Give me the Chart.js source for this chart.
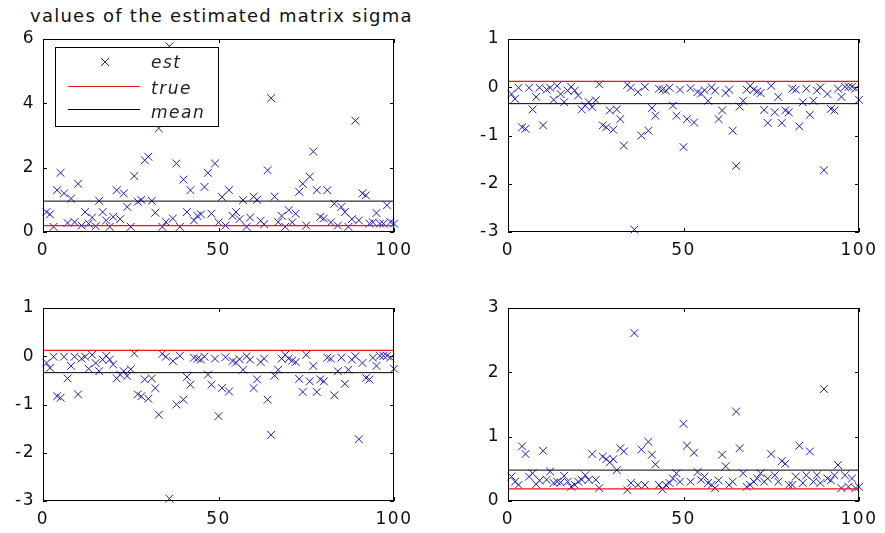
<!DOCTYPE html>
<html>
<head>
<meta charset="utf-8">
<script src="https://cdn.jsdelivr.net/npm/chart.js@4.4.0/dist/chart.umd.min.js"></script>
<style>
  body { margin: 0; background: #fff; }
  #wrap { position: relative; width: 885px; height: 533px; background: #fff; overflow: hidden; }
  #wrap canvas { position: absolute; }
  #title {
    position: absolute; left: 30px; top: 6px;
    text-align: left; white-space: nowrap;
    font: 18px "DejaVu Sans"; letter-spacing: 1.25px; line-height: 20px; color: #111;
  }
</style>
</head>
<body>
<div id="wrap">
  <div id="title">values of the estimated matrix sigma</div>
  <canvas id="c11" width="442" height="266" style="left:0;top:0"></canvas>
  <canvas id="c12" width="442" height="266" style="left:465px;top:0"></canvas>
  <canvas id="c21" width="442" height="266" style="left:0;top:269px"></canvas>
  <canvas id="c22" width="442" height="266" style="left:465px;top:269px"></canvas>
</div>
<script>
// run number of each estimate
const runs = [
    1, 2, 3, 4, 5, 6, 7, 8, 9, 10, 11, 12, 13, 14, 15, 16, 17, 18, 19, 20,
    21, 22, 23, 24, 25, 26, 27, 28, 29, 30, 31, 32, 33, 34, 35, 36, 37, 38, 39, 40,
    41, 42, 43, 44, 45, 46, 47, 48, 49, 50, 51, 52, 53, 54, 55, 56, 57, 58, 59, 60,
    61, 62, 63, 64, 65, 66, 67, 68, 69, 70, 71, 72, 73, 74, 75, 76, 77, 78, 79, 80,
    81, 82, 83, 84, 85, 86, 87, 88, 89, 90, 91, 92, 93, 94, 95, 96, 97, 98, 99, 100
];

// estimated sigma(1,1)
const sigma11 = [
    0.62, 0.55, 0.16, 1.30, 1.84, 1.20, 0.28, 1.04, 0.31, 1.50,
    0.20, 0.62, 0.26, 0.45, 0.18, 0.97, 0.62, 0.36, 0.16, 0.47,
    1.30, 0.40, 1.20, 0.78, 0.16, 1.74, 0.94, 1.00, 2.23, 2.34,
    0.97, 0.60, 3.22, 0.16, 0.31, 5.77, 0.42, 2.13, 0.16, 1.63,
    0.62, 1.30, 0.36, 0.50, 0.55, 1.40, 1.84, 0.57, 2.13, 0.30,
    1.09, 0.20, 1.30, 0.50, 0.62, 0.40, 0.99, 0.16, 0.45, 1.10,
    1.00, 0.35, 0.24, 1.92, 4.16, 1.10, 0.31, 0.50, 0.16, 0.68,
    0.30, 0.57, 1.25, 1.50, 0.20, 1.72, 2.50, 1.30, 0.47, 0.42,
    1.30, 0.30, 0.88, 0.20, 0.78, 0.62, 0.16, 0.40, 3.46, 0.36,
    1.20, 1.14, 0.26, 0.30, 0.59, 0.26, 0.26, 0.83, 0.31, 0.26
];

// estimated sigma(1,2) = sigma(2,1)
const sigma12 = [
    -0.14, -0.24, -0.01, -0.83, -0.86, -0.01, -0.46, -0.20, -0.01, -0.79,
    -0.05, -0.01, -0.26, 0.03, -0.14, -0.31, -0.07, 0.01, -0.07, -0.17,
    -0.46, -0.38, -0.31, -0.41, -0.27, 0.06, -0.79, -0.83, -0.48, -0.88,
    -0.46, -0.66, -1.21, 0.05, -0.01, -2.95, -0.10, -1.00, 0.01, -0.90,
    -0.43, -0.59, -0.03, -0.05, -0.07, -0.01, -0.38, -0.59, -0.05, -1.24,
    -0.66, -0.02, -0.73, -0.10, -0.13, -0.06, -0.28, 0.00, -0.07, -0.66,
    -0.48, -0.12, -0.05, -0.90, -1.63, -0.40, -0.28, -0.05, 0.03, -0.05,
    -0.09, -0.12, -0.47, -0.74, 0.03, -0.52, -0.20, -0.74, -0.48, -0.52,
    -0.03, -0.05, -0.81, -0.31, -0.03, -0.57, -0.28, -0.07, 0.00, -1.72,
    -0.14, -0.45, -0.48, -0.03, -0.20, 0.01, 0.01, 0.01, -0.03, -0.26
];

// estimated sigma(2,2)
const sigma22 = [
    0.38, 0.30, 0.25, 0.85, 0.73, 0.38, 0.43, 0.26, 0.32, 0.78,
    0.33, 0.46, 0.28, 0.30, 0.29, 0.39, 0.30, 0.22, 0.25, 0.30,
    0.33, 0.40, 0.33, 0.73, 0.33, 0.20, 0.69, 0.65, 0.60, 0.65,
    0.48, 0.82, 0.77, 0.17, 0.28, 2.61, 0.25, 0.80, 0.25, 0.92,
    0.72, 0.57, 0.25, 0.18, 0.25, 0.28, 0.35, 0.43, 0.30, 1.20,
    0.86, 0.30, 0.75, 0.45, 0.33, 0.38, 0.28, 0.25, 0.20, 0.32,
    0.72, 0.54, 0.25, 0.30, 1.39, 0.82, 0.43, 0.22, 0.25, 0.30,
    0.35, 0.43, 0.30, 0.35, 0.73, 0.40, 0.30, 0.62, 0.58, 0.25,
    0.25, 0.38, 0.86, 0.28, 0.40, 0.77, 0.30, 0.40, 0.28, 1.74,
    0.35, 0.32, 0.40, 0.56, 0.20, 0.40, 0.22, 0.35, 0.20, 0.22
];

// horizontal reference lines: true value and mean of the estimates
const trueValues = [0.2, 0.12, 0.12, 0.19];
const meanValues = [0.96, -0.34, -0.34, 0.48];

const xTicks = [0, 50, 100];
const yTicks11 = [0, 2, 4, 6];
const yTicks12 = [-3, -2, -1, 0, 1];
const yTicks22 = [0, 1, 2, 3];

const legendLabels = ['est', 'true', 'mean'];

const estColor = 'rgb(25, 25, 200)';
const trueColor = 'rgb(240, 20, 20)';
const meanColor = '#000';
const tickFont = { family: 'DejaVu Sans', size: 17 };

// matlab style box with inward tick marks
const boxPlugin = {
    id: 'boxPlugin',
    beforeDraw(chart) {
        chart.ctx.letterSpacing = '1.5px';
    },
    afterDraw(chart) {
        const ctx = chart.ctx;
        const a = chart.chartArea;
        const xs = chart.scales.x;
        const ys = chart.scales.y;
        ctx.save();
        ctx.strokeStyle = '#000';
        ctx.lineWidth = 1;
        ctx.strokeRect(a.left + 0.5, a.top + 0.5, a.right - a.left - 1, a.bottom - a.top - 1);
        ctx.beginPath();
        xs.ticks.forEach(t => {
            const px = Math.round(xs.getPixelForValue(t.value)) + 0.5;
            ctx.moveTo(px, a.bottom);
            ctx.lineTo(px, a.bottom - 4);
            ctx.moveTo(px, a.top);
            ctx.lineTo(px, a.top + 4);
        });
        ys.ticks.forEach(t => {
            const py = Math.round(ys.getPixelForValue(t.value)) + 0.5;
            ctx.moveTo(a.left, py);
            ctx.lineTo(a.left + 4, py);
            ctx.moveTo(a.right, py);
            ctx.lineTo(a.right - 4, py);
        });
        ctx.stroke();
        ctx.restore();
    }
};

// legend box inside the first axes
const legendPlugin = {
    id: 'legendPlugin',
    afterDraw(chart) {
        const ctx = chart.ctx;
        const a = chart.chartArea;
        const bx = a.left + 12, by = a.top + 8;
        ctx.save();
        ctx.fillStyle = '#fff';
        ctx.fillRect(bx, by, 163, 79);
        ctx.strokeStyle = '#000';
        ctx.lineWidth = 1;
        ctx.strokeRect(bx + 0.5, by + 0.5, 163, 79);

        // est marker
        const mx = bx + 50, my = by + 15;
        ctx.strokeStyle = estColor;
        ctx.beginPath();
        ctx.moveTo(mx - 4, my - 4); ctx.lineTo(mx + 4, my + 4);
        ctx.moveTo(mx + 4, my - 4); ctx.lineTo(mx - 4, my + 4);
        ctx.stroke();

        ctx.strokeStyle = trueColor;
        ctx.beginPath();
        ctx.moveTo(bx + 13, by + 39.5); ctx.lineTo(bx + 85, by + 39.5);
        ctx.stroke();

        ctx.strokeStyle = meanColor;
        ctx.beginPath();
        ctx.moveTo(bx + 13, by + 62.5); ctx.lineTo(bx + 85, by + 62.5);
        ctx.stroke();

        ctx.fillStyle = '#222';
        ctx.font = 'italic 17px "DejaVu Sans"';
        ctx.letterSpacing = '1.5px';
        ctx.textAlign = 'left';
        ctx.textBaseline = 'middle';
        ctx.fillText(legendLabels[0], bx + 96, by + 17);
        ctx.fillText(legendLabels[1], bx + 96, by + 43);
        ctx.fillText(legendLabels[2], bx + 96, by + 67);
        ctx.restore();
    }
};

function makePanel(id, values, trueVal, meanVal, yTicks, withLegend) {
    const ctx = document.getElementById(id).getContext('2d');
    return new Chart(ctx, {
        type: 'scatter',
        data: {
            datasets: [{
                label: 'mean',
                data: [{ x: 0, y: meanVal }, { x: 100, y: meanVal }],
                showLine: true,
                borderColor: meanColor,
                borderWidth: 1,
                pointRadius: 0
            }, {
                label: 'true',
                data: [{ x: 0, y: trueVal }, { x: 100, y: trueVal }],
                showLine: true,
                borderColor: trueColor,
                borderWidth: 1.2,
                pointRadius: 0
            }, {
                label: 'est',
                data: values.map((v, i) => ({ x: runs[i], y: v })),
                pointStyle: 'crossRot',
                pointRadius: 5.5,
                pointBorderWidth: 1,
                borderColor: estColor,
                backgroundColor: estColor,
                clip: false
            }]
        },
        options: {
            responsive: false,
            animation: false,
            devicePixelRatio: 1,
            layout: { padding: { left: 0, top: 39, right: 48, bottom: 0 } },
            plugins: {
                legend: { display: false },
                tooltip: { enabled: false }
            },
            scales: {
                x: {
                    type: 'linear',
                    min: 0,
                    max: 100,
                    grid: { display: false, drawTicks: false },
                    border: { display: false },
                    ticks: { padding: 8, color: '#111', font: tickFont, maxRotation: 0 },
                    afterBuildTicks: s => { s.ticks = xTicks.map(v => ({ value: v })); },
                    afterFit: s => { s.height = 34; }
                },
                y: {
                    type: 'linear',
                    min: yTicks[0],
                    max: yTicks[yTicks.length - 1],
                    grid: { display: false, drawTicks: false },
                    border: { display: false },
                    ticks: { padding: 8, color: '#111', font: tickFont },
                    afterBuildTicks: s => { s.ticks = yTicks.map(v => ({ value: v })); },
                    afterFit: s => { s.width = 43; }
                }
            }
        },
        plugins: withLegend ? [boxPlugin, legendPlugin] : [boxPlugin]
    });
}

window.charts = window.charts || {};
window.charts.s11 = makePanel('c11', sigma11, trueValues[0], meanValues[0], yTicks11, true);
window.charts.s12 = makePanel('c12', sigma12, trueValues[1], meanValues[1], yTicks12, false);
window.charts.s21 = makePanel('c21', sigma12, trueValues[2], meanValues[2], yTicks12, false);
window.charts.s22 = makePanel('c22', sigma22, trueValues[3], meanValues[3], yTicks22, false);
</script>
</body>
</html>
